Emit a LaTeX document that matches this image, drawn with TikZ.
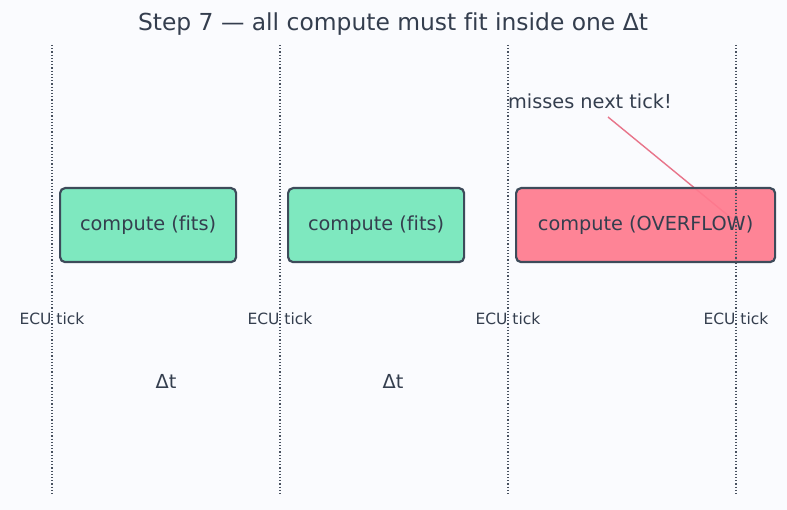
\documentclass[tikz,border=0pt]{standalone}
\usepackage{fontspec}
\setmainfont[Ligatures=NoCommon]{DejaVu Sans}
\definecolor{bg}{HTML}{FAFBFE}
\definecolor{ink}{HTML}{343E4E}
\definecolor{edge}{HTML}{3D4B5A}
\definecolor{okfill}{HTML}{7EE8BF}
\definecolor{badfill}{HTML}{FF7A8E}
\definecolor{callout}{HTML}{E8748A}
\begin{document}
\begin{tikzpicture}[x=1pt,y=-1pt,
  tickline/.style={draw=ink!90, line width=1.2pt, dash pattern=on 1.2pt off 2pt},
  taskbox/.style={draw=edge, line width=2.2pt, rounded corners=5pt, anchor=north west, inner sep=0pt},
  boxtext/.style={text=ink, font=\fontsize{19.3}{22}\selectfont},
  ticklabel/.style={text=ink, font=\fontsize{15.5}{18}\selectfont},
  dtlabel/.style={text=ink, font=\fontsize{19.3}{22}\selectfont},
]
\fill[bg] (0,0) rectangle (787,510);
\useasboundingbox (0,0) rectangle (787,510);
\node[text=ink, font=\fontsize{23.4}{28}\selectfont] (title) at (393,24) {Step 7 — all compute must f\kern0pt it inside one Δt};
% ticks
\foreach \i/\x in {1/52,2/280,3/508,4/736}{
  \coordinate (ttop\i) at (\x,45);
  \coordinate (tbot\i) at (\x,495);
  \draw[tickline] (ttop\i) -- (tbot\i);
  \node[ticklabel] (tl\i) at (\x,319) {ECU tick};
}
% callout
\node[text=ink, font=\fontsize{19.3}{22}\selectfont] (miss) at (590,101) {misses next tick!};
\coordinate (hit) at (736,222);
\draw[callout, line width=1.4pt] (608,117) -- (hit);
% boxes
\node[taskbox, fill=okfill, minimum width=176pt, minimum height=74pt] (c1) at (59,187) {};
\node[boxtext] at (c1.center) {compute (f\kern0pt its)};
\node[taskbox, fill=okfill, minimum width=176pt, minimum height=74pt] (c2) at (287,187) {};
\node[boxtext] at (c2.center) {compute (f\kern0pt its)};
\node[taskbox, fill=badfill, fill opacity=0.92, minimum width=259pt, minimum height=74pt] (c3) at (515,187) {};
\node[boxtext] at (c3.center) {compute (OVERFLOW)};
\draw[tickline] (736,187) -- (736,261);
% delta t
\node[dtlabel] (dt1) at (166,381) {Δt};
\node[dtlabel] (dt2) at (393,381) {Δt};
\end{tikzpicture}
\end{document}
